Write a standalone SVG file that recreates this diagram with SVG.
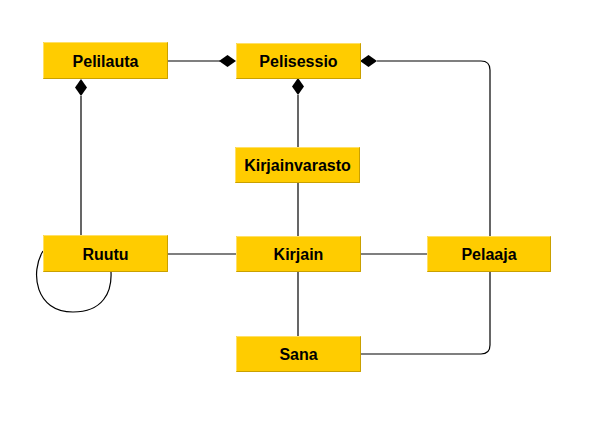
<svg xmlns="http://www.w3.org/2000/svg" width="591" height="433" viewBox="0 0 591 433">
<defs>
<style>
.box{fill:#ffcc00;stroke:#f0c000;stroke-width:1}
.bev{fill:none;stroke:#c9a000;stroke-width:1}
.hi{fill:none;stroke:#ffe066;stroke-width:1}
.lbl{font-family:"Liberation Sans",Arial,sans-serif;font-weight:bold;font-size:16px;fill:#000;text-anchor:middle}
.ln{fill:none;stroke:#000;stroke-width:1.2}
.dia{fill:#000;stroke:none}
</style>
</defs>
<rect width="591" height="433" fill="#fff"/>
<g id="connectors">
<path class="ln" d="M168,61 H220"/>
<polygon class="dia" points="219,61 227.5,55 236,61 227.5,67"/>
<path class="ln" d="M377,61 H481 Q490,61 490,70 V236"/>
<polygon class="dia" points="360,61 368.5,55 377,61 368.5,67"/>
<path class="ln" d="M81,96 V235"/>
<polygon class="dia" points="81,79 87,87.5 81,96 75,87.5"/>
<path class="ln" d="M298,95 V147"/>
<polygon class="dia" points="298,78 304,86.5 298,95 292,86.5"/>
<path class="ln" d="M298,183 V236"/>
<path class="ln" d="M168,254 H236"/>
<path class="ln" d="M360,254 H427"/>
<path class="ln" d="M298,272 V336"/>
<path class="ln" d="M360,354 H481 Q490,354 490,345 V271"/>
<path class="ln" d="M43,251 C30,272 35,312 73,312 C103,312 112,292 111,272"/>
</g>
<g id="Pelilauta"><rect class="box" x="43.5" y="42.5" width="124" height="36"/><path class="hi" d="M43.5,78.5 V42.5 H167.5"/><path class="bev" d="M167.5,42.5 V78.5 H43.5"/><text class="lbl" x="105.5" y="66.5">Pelilauta</text></g>
<g id="Pelisessio"><rect class="box" x="236.5" y="43.5" width="124" height="35"/><path class="hi" d="M236.5,78.5 V43.5 H360.5"/><path class="bev" d="M360.5,43.5 V78.5 H236.5"/><text class="lbl" x="298.5" y="66.5">Pelisessio</text></g>
<g id="Kirjainvarasto"><rect class="box" x="235.5" y="147.5" width="124" height="35"/><path class="hi" d="M235.5,182.5 V147.5 H359.5"/><path class="bev" d="M359.5,147.5 V182.5 H235.5"/><text class="lbl" x="297.5" y="170.5">Kirjainvarasto</text></g>
<g id="Ruutu"><rect class="box" x="43.5" y="235.5" width="124" height="36"/><path class="hi" d="M43.5,271.5 V235.5 H167.5"/><path class="bev" d="M167.5,235.5 V271.5 H43.5"/><text class="lbl" x="105.5" y="259.5">Ruutu</text></g>
<g id="Kirjain"><rect class="box" x="236.5" y="236.5" width="124" height="35"/><path class="hi" d="M236.5,271.5 V236.5 H360.5"/><path class="bev" d="M360.5,236.5 V271.5 H236.5"/><text class="lbl" x="298.5" y="259.5">Kirjain</text></g>
<g id="Pelaaja"><rect class="box" x="427.5" y="236.5" width="123" height="35"/><path class="hi" d="M427.5,271.5 V236.5 H550.5"/><path class="bev" d="M550.5,236.5 V271.5 H427.5"/><text class="lbl" x="489" y="259.5">Pelaaja</text></g>
<g id="Sana"><rect class="box" x="236.5" y="336.5" width="124" height="35"/><path class="hi" d="M236.5,371.5 V336.5 H360.5"/><path class="bev" d="M360.5,336.5 V371.5 H236.5"/><text class="lbl" x="298.5" y="359.5">Sana</text></g>
</svg>
